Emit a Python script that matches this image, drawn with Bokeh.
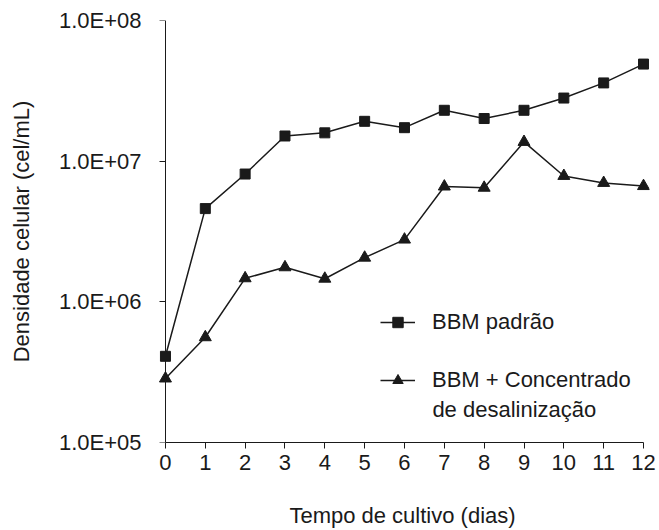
from bokeh.plotting import figure
from bokeh.models import Legend, LegendItem, FixedTicker, Label, Range1d, LogAxis
from bokeh.embed import file_html
from bokeh.resources import INLINE

days = [0, 1, 2, 3, 4, 5, 6, 7, 8, 9, 10, 11, 12]
bbm_padrao = [4.1e5, 4.6e6, 8.1e6, 1.51e7, 1.59e7, 1.92e7, 1.73e7, 2.3e7, 2.01e7, 2.3e7, 2.81e7, 3.6e7, 4.9e7]
bbm_concentrado = [2.85e5, 5.6e5, 1.47e6, 1.76e6, 1.46e6, 2.06e6, 2.77e6, 6.6e6, 6.47e6, 1.37e7, 7.85e6, 7.0e6, 6.65e6]
y_ticks = [1e5, 1e6, 1e7, 1e8]
y_tick_labels = ["1.0E+05", "1.0E+06", "1.0E+07", "1.0E+08"]
series_names = ["BBM padrão", "BBM + Concentrado", "de desalinização"]
x_title = "Tempo de cultivo (dias)"
y_title = "Densidade celular (cel/mL)"

FONT = "Liberation Sans"
FS = "22px"
INK = "#1a1a1a"

p = figure(width=657, height=530, output_backend="svg", toolbar_location=None,
           y_axis_type="log", y_axis_location=None,
           x_range=Range1d(-0.25, 12.15), y_range=Range1d(1e5, 1e8),
           min_border_left=155, min_border_right=8, min_border_top=20, min_border_bottom=87)
p.outline_line_color = None
p.grid.visible = False
p.background_fill_color = "white"
p.border_fill_color = "white"

l1 = p.line(days, bbm_padrao, line_color=INK, line_width=1.5)
m1 = p.scatter(days, bbm_padrao, marker="square", size=10, fill_color=INK, line_color=INK)
l2 = p.line(days, bbm_concentrado, line_color=INK, line_width=1.5)
m2 = p.scatter(days, bbm_concentrado, marker="triangle", size=12, fill_color=INK, line_color=INK)

# x axis
xa = p.xaxis[0]
xa.ticker = FixedTicker(ticks=days)
xa.bounds = (0, 12)
xa.minor_tick_line_color = None
xa.major_tick_out = 6
xa.major_tick_in = 0
xa.axis_line_color = INK
xa.major_tick_line_color = INK
xa.major_label_text_font = FONT
xa.major_label_text_font_size = FS
xa.major_label_text_color = INK
xa.major_label_standoff = 6
xa.axis_label = x_title
xa.axis_label_text_font = FONT
xa.axis_label_text_font_size = FS
xa.axis_label_text_font_style = "normal"
xa.axis_label_text_color = INK
xa.axis_label_standoff = 30

# y axis: labels (at frame edge, no rule/ticks)
ylab = LogAxis(ticker=FixedTicker(ticks=y_ticks),
               major_label_overrides={t: s for t, s in zip(y_ticks, y_tick_labels)},
               axis_line_color=None, major_tick_line_color=None, minor_tick_line_color=None,
               major_tick_out=0, major_tick_in=0,
               major_label_text_font=FONT, major_label_text_font_size=FS,
               major_label_text_color=INK, major_label_standoff=14,
               axis_label=y_title, axis_label_text_font=FONT, axis_label_text_font_size=FS,
               axis_label_text_font_style="normal", axis_label_text_color=INK,
               axis_label_standoff=22)
p.add_layout(ylab, "left")

# y axis: rule and ticks at x = 0
yrule = LogAxis(ticker=FixedTicker(ticks=y_ticks), fixed_location=0, bounds=(1e5, 1e8),
                axis_line_color=INK, major_tick_line_color=INK, minor_tick_line_color=None,
                major_tick_out=6, major_tick_in=0, major_label_text_alpha=0,
                major_label_standoff=0, major_label_text_font_size="1px")
p.add_layout(yrule, "left")

legend = Legend(items=[LegendItem(label=series_names[0], renderers=[l1, m1]),
                       LegendItem(label=series_names[1], renderers=[l2, m2])],
                location=(225, 49), padding=0, margin=0, spacing=32,
                label_height=26, glyph_height=26, glyph_width=35, label_standoff=17,
                border_line_alpha=0, background_fill_alpha=0,
                label_text_font=FONT, label_text_font_size=FS, label_text_color=INK)
p.add_layout(legend)

p.add_layout(Label(x=6.70, y=10 ** 5.234, text=series_names[2], text_font=FONT,
                   text_font_size=FS, text_color=INK, text_baseline="middle"))

open("out.html", "w").write(file_html(p, INLINE))
